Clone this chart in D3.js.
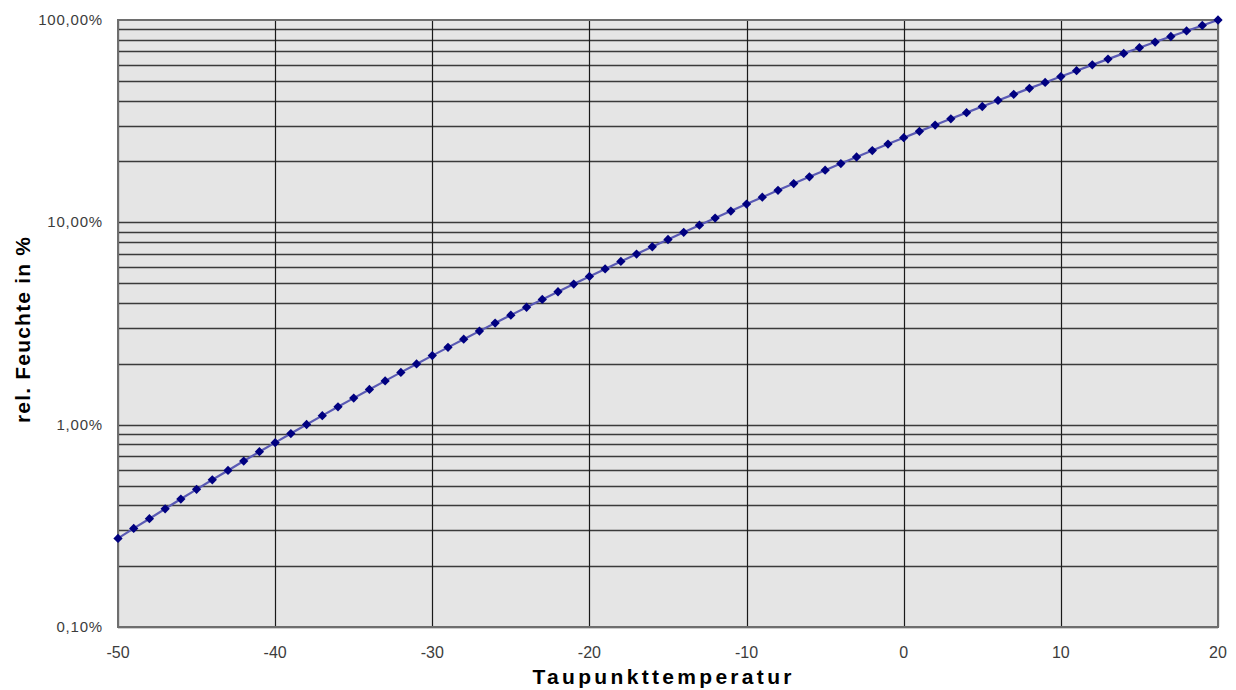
<!DOCTYPE html>
<html>
<head>
<meta charset="utf-8">
<script src="https://cdn.jsdelivr.net/npm/d3@7"></script>
<style>
  body { margin: 0; background: #fff; }
  svg { display: block; }
  text { font-family: Arial, "Liberation Sans", sans-serif; }
</style>
</head>
<body>
<div id="chart"></div>
<script>
"use strict";

// dew point temperature (°C), one point per degree
var temperatures = d3.range(-50, 21);
// relative humidity in %
var humidity = [
  0.274, 0.307, 0.343, 0.384, 0.429, 0.479, 0.534, 0.594, 0.661, 0.735,
  0.815, 0.904, 1.002, 1.108, 1.225, 1.353, 1.493, 1.646, 1.813, 1.995,
  2.194, 2.410, 2.644, 2.900, 3.177, 3.478, 3.804, 4.157, 4.539, 4.953,
  5.400, 5.883, 6.405, 6.967, 7.573, 8.226, 8.928, 9.684, 10.50, 11.37,
  12.31, 13.31, 14.39, 15.54, 16.78, 18.10, 19.51, 21.03, 22.64, 24.36,
  26.20, 28.16, 30.25, 32.48, 34.85, 37.37, 40.05, 42.90, 45.93, 49.15,
  52.56, 56.18, 60.02, 64.08, 68.39, 72.95, 77.78, 82.88, 88.28, 93.98,
  100.0
];
var xTicks = [-50, -40, -30, -20, -10, 0, 10, 20];
var yTicks = [0.1, 1, 10, 100];
var yTickLabels = ["0,10%", "1,00%", "10,00%", "100,00%"];
var xTitle = "Taupunkttemperatur";
var yTitle = "rel. Feuchte in %";

var width = 1236;
var height = 690;
var margin = { top: 20, right: 18, bottom: 63, left: 118 };

var svg = d3.select("#chart").append("svg")
  .attr("width", width)
  .attr("height", height);

var x = d3.scaleLinear()
  .domain([-50, 20])
  .range([margin.left, width - margin.right]);

var y = d3.scaleLog()
  .domain([0.1, 100])
  .range([height - margin.bottom, margin.top]);

// plot area background
svg.append("rect")
  .attr("x", x.range()[0])
  .attr("y", y.range()[1])
  .attr("width", x.range()[1] - x.range()[0])
  .attr("height", y.range()[0] - y.range()[1])
  .attr("fill", "#e5e5e5");

// horizontal grid: every log step 1..9 per decade
var minorValues = [];
yTicks.slice(0, -1).forEach(function (d) {
  for (var k = 1; k < 10; ++k) minorValues.push(d * k);
});
svg.append("g")
  .selectAll("line")
  .data(minorValues)
  .enter().append("line")
  .attr("x1", x.range()[0])
  .attr("x2", x.range()[1])
  .attr("y1", function (d) { return Math.round(y(d)) + 0.5; })
  .attr("y2", function (d) { return Math.round(y(d)) + 0.5; })
  .attr("stroke", "#3a3a3a")
  .attr("stroke-width", 1.6);

// vertical grid
svg.append("g")
  .selectAll("line")
  .data(xTicks)
  .enter().append("line")
  .attr("x1", function (d) { return Math.round(x(d)) + 0.5; })
  .attr("x2", function (d) { return Math.round(x(d)) + 0.5; })
  .attr("y1", y.range()[1])
  .attr("y2", y.range()[0])
  .attr("stroke", "#1a1a1a")
  .attr("stroke-width", 1.2);

// frame
svg.append("rect")
  .attr("x", x.range()[0])
  .attr("y", y.range()[1])
  .attr("width", x.range()[1] - x.range()[0])
  .attr("height", y.range()[0] - y.range()[1])
  .attr("fill", "none")
  .attr("stroke", "#6e6e6e")
  .attr("stroke-width", 2);

// y tick labels
svg.append("g")
  .selectAll("text")
  .data(yTicks)
  .enter().append("text")
  .attr("x", margin.left - 15)
  .attr("y", function (d) { return y(d) + 5; })
  .attr("text-anchor", "end")
  .attr("font-size", 15)
  .attr("letter-spacing", 0.8)
  .attr("fill", "#3c3c3c")
  .text(function (d, i) { return yTickLabels[i]; });

// x tick labels
svg.append("g")
  .selectAll("text")
  .data(xTicks)
  .enter().append("text")
  .attr("x", function (d) { return x(d); })
  .attr("y", height - margin.bottom + 31)
  .attr("text-anchor", "middle")
  .attr("font-size", 16)
  .attr("fill", "#3c3c3c")
  .text(function (d) { return d; });

// axis titles
svg.append("text")
  .attr("x", 662)
  .attr("y", 684)
  .attr("text-anchor", "middle")
  .attr("font-size", 21)
  .attr("font-weight", "bold")
  .attr("textLength", 259)
  .attr("lengthAdjust", "spacing")
  .text(xTitle);

svg.append("text")
  .attr("transform", "translate(30,330) rotate(-90)")
  .attr("text-anchor", "middle")
  .attr("font-size", 21)
  .attr("font-weight", "bold")
  .attr("textLength", 186)
  .attr("lengthAdjust", "spacing")
  .text(yTitle);

var points = temperatures.map(function (t, i) {
  return { t: t, rh: humidity[i] };
});

var line = d3.line()
  .x(function (d) { return x(d.t); })
  .y(function (d) { return y(d.rh); });

svg.append("path")
  .datum(points)
  .attr("d", line)
  .attr("fill", "none")
  .attr("stroke", "#5a5ab4")
  .attr("stroke-width", 2.2);

var diamond = d3.symbol().type(d3.symbolDiamond2).size(55);
svg.append("g")
  .selectAll("path")
  .data(points)
  .enter().append("path")
  .attr("transform", function (d) { return "translate(" + x(d.t) + "," + y(d.rh) + ")"; })
  .attr("d", diamond)
  .attr("fill", "#000080");
</script>
</body>
</html>
